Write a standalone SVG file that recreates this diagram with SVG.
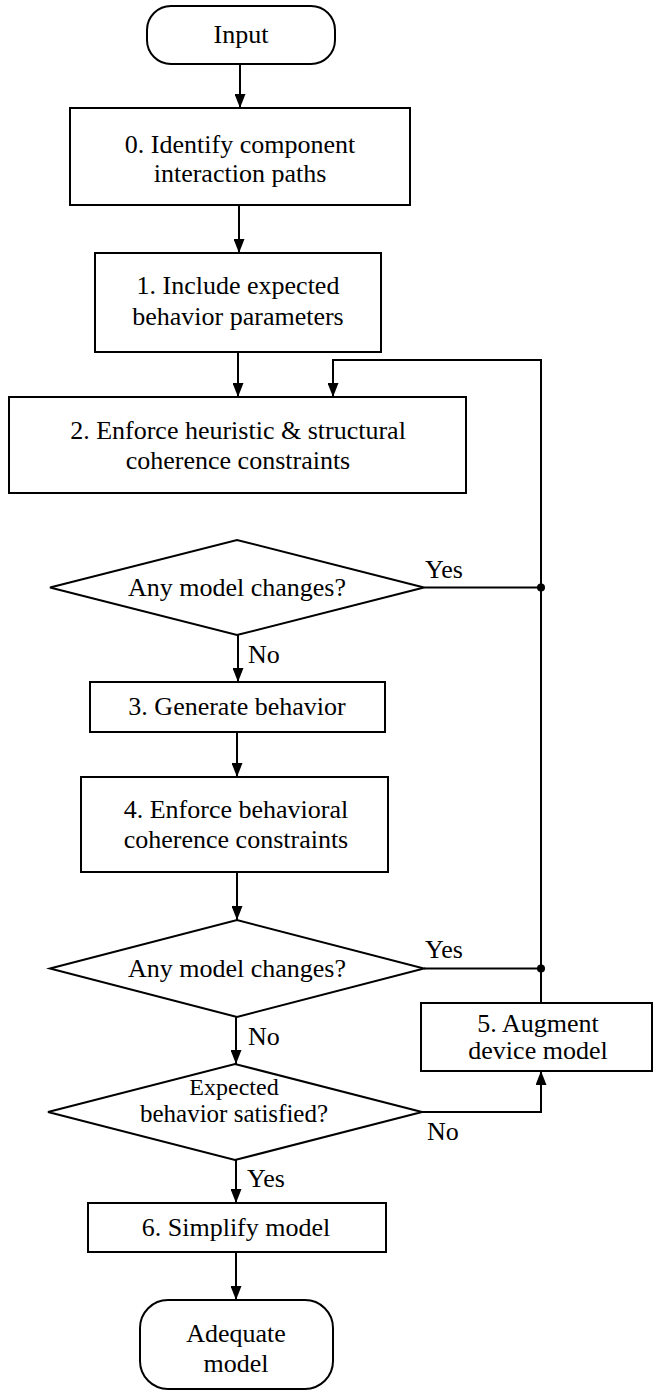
<svg xmlns="http://www.w3.org/2000/svg" width="655" height="1391" viewBox="0 0 655 1391" font-family="'Liberation Serif', 'Times New Roman', 'DejaVu Serif', serif">
<style>
.b{fill:#fff;stroke:#000;stroke-width:2}
text{font-family:'Liberation Serif','Times New Roman','DejaVu Serif',serif;font-size:26px;fill:#000}
.t{text-anchor:middle}
.c{fill:none;stroke:#000;stroke-width:2}
</style>
<defs>
<marker id="ah" viewBox="0 0 14 11" refX="14" refY="5.5" markerWidth="14" markerHeight="11" markerUnits="userSpaceOnUse" orient="auto">
<path d="M0,0 L14,5.5 L0,11 z" fill="#000"/>
</marker>
</defs>
<rect width="655" height="1391" fill="#fff"/>
<g id="connectors">
<path class="c" d="M240,64 V108" marker-end="url(#ah)"/>
<path class="c" d="M239,205 V253" marker-end="url(#ah)"/>
<path class="c" d="M238,352 V397" marker-end="url(#ah)"/>
<path class="c" d="M541,1003 V360 H333 V397" marker-end="url(#ah)"/>
<path class="c" d="M424,587.5 H541"/>
<circle cx="541" cy="587.5" r="4" fill="#000"/>
<path class="c" d="M238,635 V682" marker-end="url(#ah)"/>
<path class="c" d="M237,732 V777" marker-end="url(#ah)"/>
<path class="c" d="M237,872 V920" marker-end="url(#ah)"/>
<path class="c" d="M424,968.5 H541"/>
<circle cx="541" cy="968.5" r="4" fill="#000"/>
<path class="c" d="M236,1017 V1064" marker-end="url(#ah)"/>
<path class="c" d="M422,1112 H541 V1071" marker-end="url(#ah)"/>
<path class="c" d="M236,1160 V1203" marker-end="url(#ah)"/>
<path class="c" d="M236,1252 V1300" marker-end="url(#ah)"/>
<text x="425" y="578">Yes</text>
<text x="248" y="663">No</text>
<text x="425" y="958">Yes</text>
<text x="248" y="1045">No</text>
<text x="427" y="1140">No</text>
<text x="247" y="1187">Yes</text>
</g>
<g id="input">
<rect class="b" x="147" y="6" width="188" height="58" rx="24"/>
<text class="t" x="241" y="43">Input</text>
</g>
<g id="step0">
<rect class="b" x="70" y="108" width="340" height="97"/>
<text class="t" x="240" y="153">0. Identify component</text>
<text class="t" x="240" y="182">interaction paths</text>
</g>
<g id="step1">
<rect class="b" x="95" y="253" width="286" height="99"/>
<text class="t" x="238" y="294">1. Include expected</text>
<text class="t" x="238" y="325">behavior parameters</text>
</g>
<g id="step2">
<rect class="b" x="9" y="397" width="457" height="96"/>
<text class="t" x="238" y="439">2. Enforce heuristic &amp; structural</text>
<text class="t" x="238" y="469">coherence constraints</text>
</g>
<g id="decision1">
<polygon class="b" points="50,587.5 237,540 424,587.5 237,635"/>
<text class="t" x="237" y="596">Any model changes?</text>
</g>
<g id="step3">
<rect class="b" x="90" y="682" width="295" height="50"/>
<text class="t" x="237" y="715">3. Generate behavior</text>
</g>
<g id="step4">
<rect class="b" x="81" y="777" width="307" height="95"/>
<text class="t" x="236" y="818">4. Enforce behavioral</text>
<text class="t" x="236" y="848">coherence constraints</text>
</g>
<g id="decision2">
<polygon class="b" points="50,968.5 237,920 424,968.5 237,1017"/>
<text class="t" x="237" y="977">Any model changes?</text>
</g>
<g id="step5">
<rect class="b" x="421" y="1003" width="231" height="68"/>
<text class="t" x="538" y="1032" font-size="25">5. Augment</text>
<text class="t" x="538" y="1059" font-size="25">device model</text>
</g>
<g id="decision3">
<polygon class="b" points="48,1112 235,1064 422,1112 235,1160"/>
<text class="t" x="234" y="1095" style="font-size:24px">Expected</text>
<text class="t" x="234" y="1122" style="font-size:25px">behavior satisfied?</text>
</g>
<g id="step6">
<rect class="b" x="88" y="1203" width="298" height="49"/>
<text class="t" x="236" y="1236">6. Simplify model</text>
</g>
<g id="output">
<rect class="b" x="140" y="1300" width="193" height="89" rx="28"/>
<text class="t" x="236" y="1342">Adequate</text>
<text class="t" x="236" y="1372">model</text>
</g>
</svg>
